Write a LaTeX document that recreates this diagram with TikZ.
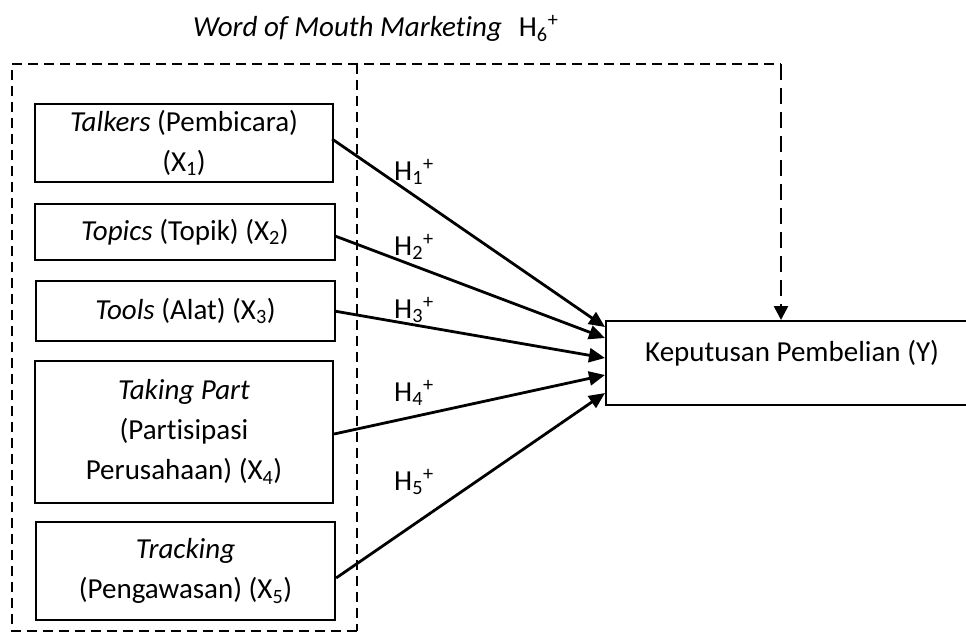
\documentclass[tikz,border=0pt]{standalone}
\usepackage{fontspec}
\setmainfont{Carlito}[Ligatures={NoCommon,NoContextual}]
\usetikzlibrary{arrows.meta,calc}
\begin{document}
\begin{tikzpicture}[x=1pt,y=-1pt,
  box/.style={draw, line width=2.2pt, inner sep=0pt, align=center, font=\fontsize{29}{40}\selectfont},
  conn/.style={line width=2.8pt, -{Triangle[length=16pt,width=14pt]}},
  dbox/.style={line width=2.6pt, dash pattern=on 10pt off 6pt},
  darrow/.style={line width=2.6pt, dash pattern=on 16pt off 8pt, -{Triangle[length=14pt,width=14pt]}},
  hlab/.style={anchor=base west, inner sep=0pt, font=\fontsize{29}{35}\selectfont}]
\useasboundingbox (0,0) rectangle (966,632);
\clip (0,0) rectangle (966,632);

\node[hlab] (title) at (193,36) {\textit{Word of Mouth Marketing}\hspace{17pt}H\textsubscript{6}\textsuperscript{+}};

\node[box, minimum width=298pt, minimum height=78pt] (x1) at (184,143) {\textit{Talkers} (Pembicara)\\(X\textsubscript{1})};
\node[box, minimum width=300pt, minimum height=56pt] (x2) at (185,232) {\textit{Topics} (Topik) (X\textsubscript{2})};
\node[box, minimum width=299pt, minimum height=60pt] (x3) at (185.5,311) {\textit{Tools} (Alat) (X\textsubscript{3})};
\node[box, minimum width=298pt, minimum height=142pt] (x4) at (184,432) {\textit{Taking Part}\\(Partisipasi\\Perusahaan) (X\textsubscript{4})};
\node[box, minimum width=299pt, minimum height=98pt] (x5) at (185.5,571) {\textit{Tracking}\\(Pengawasan) (X\textsubscript{5})};

\node[box, minimum width=372pt, text height=40pt, text depth=44pt, anchor=north west] (y) at (605,320) {Keputusan Pembelian (Y)};

\coordinate (tl) at (12,64);
\coordinate (tr) at (781,64);
\coordinate (bl) at (12,631);
\coordinate (mt) at (357,64);
\coordinate (mb) at (357,631);

\draw[dbox] (mb) -- (bl) -- (tl) -- (tr);
\draw[dbox] (mt) -- (mb);
\draw[darrow] (tr) -- (tr |- y.north);

\draw[conn] ($(x1.east)+(-2,-4)$) -- ($(y.north west)+(0,7)$);
\draw[conn] ($(x2.east)+(-1,4)$) -- ($(y.north west)+(0,18)$);
\draw[conn] ($(x3.east)+(-2,0)$) -- ($(y.north west)+(0,38)$);
\draw[conn] ($(x4.east)+(0,2)$) -- ($(y.north west)+(0,55)$);
\draw[conn] ($(x5.east)+(0,7)$) -- ($(y.north west)+(0,73)$);

\node[hlab] (h1) at (394,180) {H\textsubscript{1}\textsuperscript{+}};
\node[hlab] (h2) at (394,255) {H\textsubscript{2}\textsuperscript{+}};
\node[hlab] (h3) at (394,318) {H\textsubscript{3}\textsuperscript{+}};
\node[hlab] (h4) at (394,401) {H\textsubscript{4}\textsuperscript{+}};
\node[hlab] (h5) at (394,490) {H\textsubscript{5}\textsuperscript{+}};
\end{tikzpicture}
\end{document}
